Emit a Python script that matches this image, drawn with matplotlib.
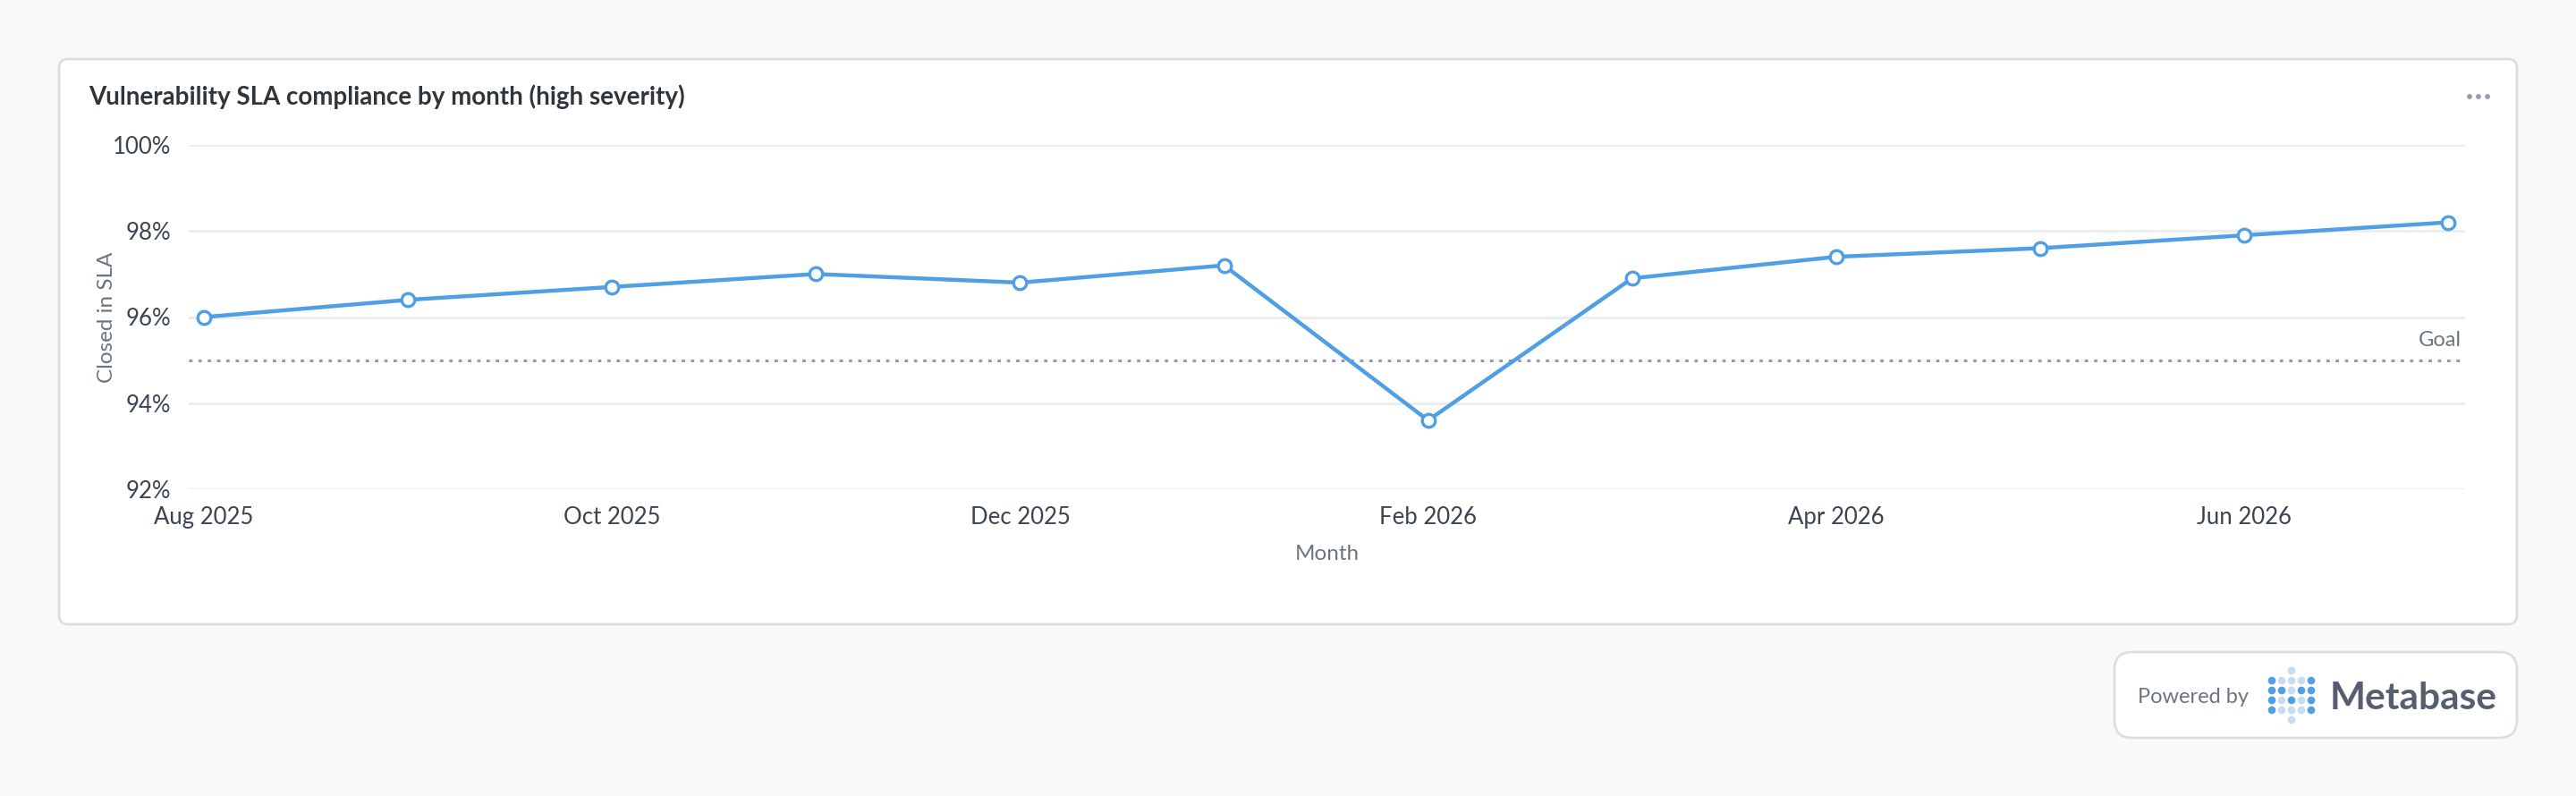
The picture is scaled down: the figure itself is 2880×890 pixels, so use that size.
import matplotlib
matplotlib.use("Agg")
import matplotlib.pyplot as plt
from matplotlib.patches import FancyBboxPatch, Circle

# -----------------------------
# Data
# -----------------------------

months = ["Aug 2025", "Sep 2025", "Oct 2025", "Nov 2025", "Dec 2025", "Jan 2026",
          "Feb 2026", "Mar 2026", "Apr 2026", "May 2026", "Jun 2026", "Jul 2026"]
closed_in_sla = [96.0, 96.4, 96.7, 97.0, 96.8, 97.2, 93.6, 96.9, 97.4, 97.6, 97.9, 98.2]
goal = 95.0
y_ticks = [92, 94, 96, 98, 100]
x_tick_labels = ["Aug 2025", "Oct 2025", "Dec 2025", "Feb 2026", "Apr 2026", "Jun 2026"]

# -----------------------------
# Style
# -----------------------------

plt.rcParams["font.family"] = ["Lato", "DejaVu Sans"]

BLUE = "#509ee3"
LIGHT_BLUE = "#c6dcf2"
TITLE = "#2e353b"
TICK = "#3b4451"
MUTED = "#6c757f"
BORDER = "#dcdfe1"

W, H = 2880, 890
fig = plt.figure(figsize=(W / 100, H / 100), dpi=100)
fig.patch.set_facecolor("#f9f9f9")

# background layer in pixel units (y down)
bg = fig.add_axes([0, 0, 1, 1], zorder=0)
bg.set_xlim(0, W)
bg.set_ylim(H, 0)
bg.axis("off")

# card
bg.add_patch(FancyBboxPatch((66, 66), 2748, 632,
                            boxstyle="round,pad=0,rounding_size=10",
                            facecolor="white", edgecolor=BORDER, linewidth=2))

# title + menu dots
bg.text(99, 108, "Vulnerability SLA compliance by month (high severity)",
        fontsize=20, fontweight="bold", color=TITLE, va="center", ha="left")
for dx in (-10, 0, 10):
    bg.add_patch(Circle((2771 + dx, 108), 2.2, color="#959cab"))

# "Powered by" badge
bg.add_patch(FancyBboxPatch((2364, 729), 450, 96,
                            boxstyle="round,pad=0,rounding_size=20",
                            facecolor="white", edgecolor=BORDER, linewidth=2))
bg.text(2390, 779, "Powered by", fontsize=17, color=MUTED, va="center", ha="left")
bg.text(2605, 781, "Metabase", fontsize=30.5, fontweight="bold", color="#575e70",
        va="center", ha="left")

logo_rows = ["D L L L D",
             "D D L D D",
             "D L D L D",
             "D L L L D"]
logo_x = [2540, 2551, 2562, 2573, 2584]
logo_y = [761, 772, 783, 794]
for row, yy in zip(logo_rows, logo_y):
    for c, xx in zip(row.split(), logo_x):
        bg.add_patch(Circle((xx, yy), 3.6, color=BLUE if c == "D" else LIGHT_BLUE))
bg.add_patch(Circle((2562, 750), 3.6, color=LIGHT_BLUE))
bg.add_patch(Circle((2562, 805), 3.6, color=LIGHT_BLUE))

# -----------------------------
# Chart
# -----------------------------

left, right, top, bottom = 211, 2756, 162, 547
ax = fig.add_axes([left / W, 1 - bottom / H, (right - left) / W, (bottom - top) / H], zorder=1)
ax.set_facecolor("none")

x = list(range(len(months)))

ax.plot(x, closed_in_sla, color=BLUE, linewidth=3.2, marker="o", markersize=10.5,
        markerfacecolor="white", markeredgecolor=BLUE, markeredgewidth=2.4,
        zorder=4, solid_joinstyle="round")

ax.axhline(goal, color="#9597ad", linewidth=2.2, linestyle=(0, (1.2, 2.2)), zorder=3)
ax.annotate("Goal", xy=(1, goal), xycoords=("axes fraction", "data"),
            xytext=(-3, 16), textcoords="offset points",
            ha="right", va="center", fontsize=17, color=MUTED)

ax.set_xlim(-0.075, len(months) - 1 + 0.083)
ax.set_ylim(92, 100)

ax.set_yticks(y_ticks)
ax.set_yticklabels([f"{v}%" for v in y_ticks])
ax.set_xticks([months.index(m) for m in x_tick_labels])
ax.set_xticklabels(x_tick_labels)

ax.grid(axis="y", color="#ececec", linewidth=2)
ax.grid(axis="x", visible=False)
ax.set_axisbelow(True)

for spine in ax.spines.values():
    spine.set_visible(False)

ax.tick_params(axis="both", length=0, labelsize=18.5, labelcolor=TICK)
ax.tick_params(axis="y", pad=14)
ax.tick_params(axis="x", pad=14)

ax.set_xlabel("Month", fontsize=17.5, color=MUTED)
ax.set_ylabel("Closed in SLA", fontsize=17.5, color=MUTED)
ax.xaxis.label.set_va("center")
ax.yaxis.label.set_va("center")
ax.xaxis.set_label_coords(0.5, (bottom - 619) / (bottom - top))
ax.yaxis.set_label_coords((119 - left) / (right - left), 0.5)

fig.savefig("out.png", dpi=100, facecolor=fig.get_facecolor())
